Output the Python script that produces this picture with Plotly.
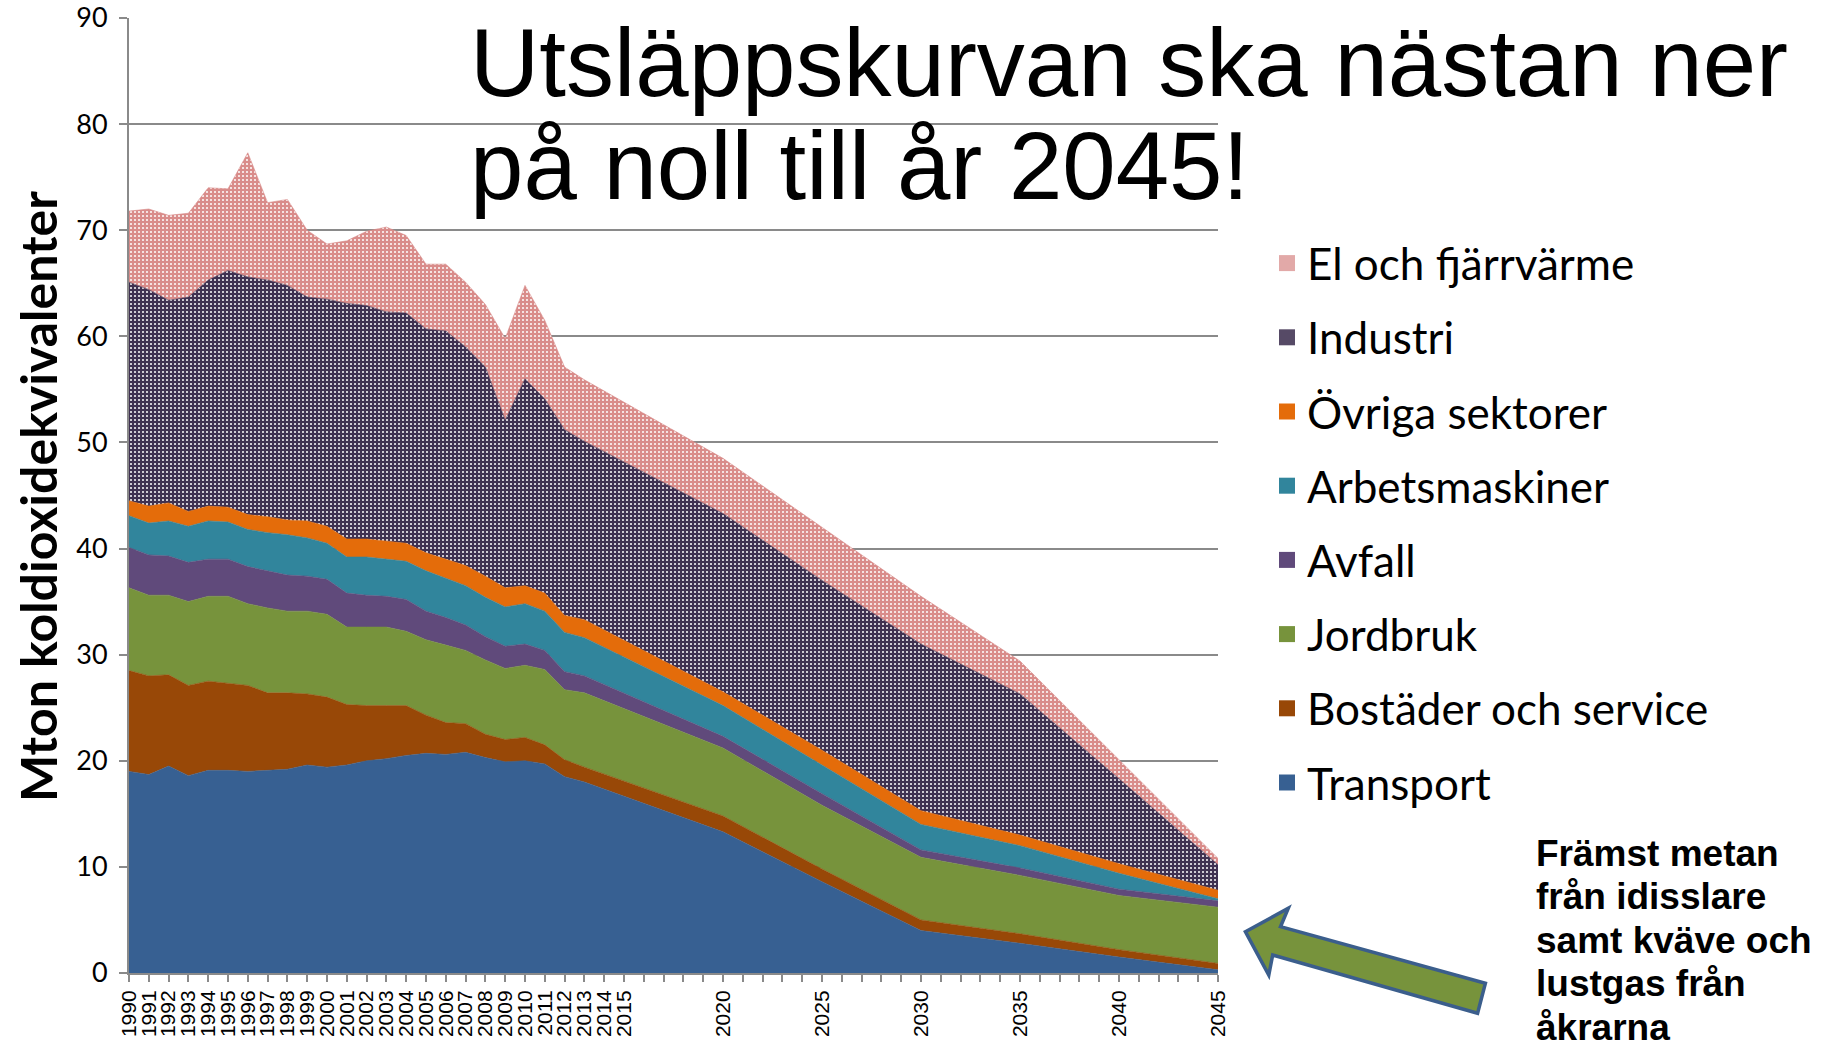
import plotly.graph_objects as go

# ---------------- data ----------------
years = list(range(1990, 2014)) + [2020, 2025, 2030, 2035, 2040, 2045]

transport = [19.0, 18.7, 19.5, 18.6, 19.1, 19.1, 19.0, 19.1, 19.2, 19.6, 19.4, 19.6, 20.0, 20.2,
             20.5, 20.7, 20.6, 20.8, 20.3, 19.9, 20.0, 19.7, 18.5, 18.0, 13.3, 8.6, 4.0, 2.8, 1.5, 0.3]
bostader = [9.5, 9.3, 8.6, 8.5, 8.4, 8.2, 8.1, 7.3, 7.2, 6.7, 6.6, 5.7, 5.2, 5.0,
            4.7, 3.6, 3.0, 2.7, 2.2, 2.1, 2.2, 1.8, 1.6, 1.4, 1.5, 1.2, 1.0, 0.9, 0.7, 0.6]
jordbruk = [7.8, 7.6, 7.5, 7.9, 8.0, 8.2, 7.7, 8.0, 7.7, 7.8, 7.8, 7.3, 7.4, 7.4,
            7.0, 7.1, 7.3, 6.9, 7.0, 6.7, 6.8, 7.1, 6.6, 7.0, 6.4, 6.0, 5.9, 5.5, 5.1, 5.3]
avfall = [3.8, 3.8, 3.7, 3.7, 3.5, 3.5, 3.5, 3.5, 3.4, 3.3, 3.3, 3.2, 3.0, 2.9,
          3.0, 2.7, 2.6, 2.4, 2.2, 2.1, 2.0, 1.8, 1.7, 1.6, 1.1, 1.1, 0.7, 0.7, 0.6, 0.6]
arbetsmaskiner = [3.0, 3.0, 3.3, 3.4, 3.6, 3.5, 3.5, 3.6, 3.8, 3.6, 3.4, 3.4, 3.6, 3.5,
                  3.6, 3.8, 3.7, 3.7, 3.7, 3.7, 3.8, 3.7, 3.7, 3.6, 2.9, 2.7, 2.4, 2.1, 1.5, 0.2]
ovriga = [1.4, 1.6, 1.7, 1.4, 1.4, 1.4, 1.4, 1.5, 1.4, 1.6, 1.6, 1.7, 1.7, 1.7,
          1.7, 1.7, 1.8, 1.9, 2.0, 1.8, 1.7, 1.7, 1.6, 1.7, 1.3, 1.4, 1.3, 1.0, 0.9, 0.8]
industri = [20.6, 20.4, 19.1, 20.2, 21.3, 22.3, 22.4, 22.3, 22.1, 21.1, 21.4, 22.2, 22.0, 21.6,
            21.7, 21.1, 21.5, 20.6, 19.7, 15.8, 19.5, 18.3, 17.5, 16.8, 16.8, 16.0, 15.7, 13.3, 8.0, 2.4]
el_fjarrvarme = [6.7, 7.6, 8.0, 7.9, 8.7, 7.7, 11.7, 7.3, 8.1, 6.3, 5.2, 5.9, 7.0, 8.0,
                 7.3, 6.1, 6.3, 6.1, 5.9, 7.7, 8.8, 7.4, 5.9, 5.8, 5.2, 5.0, 4.5, 3.1, 1.8, 0.6]

tick_years = list(range(1990, 2046))
labeled_years = list(range(1990, 2016)) + [2020, 2025, 2030, 2035, 2040, 2045]
tick_text = [str(y) if y in labeled_years else "" for y in tick_years]

title_lines = ["Utsläppskurvan ska nästan ner", "på noll till år 2045!"]
note_lines = ["Främst metan", "från idisslare", "samt kväve och", "lustgas från", "åkrarna"]
y_title = "Mton koldioxidekvivalenter"

# ---------------- layout geometry ----------------
W, H = 1832, 1049
ML, MR, MT, MB = 129, 614, 18, 76
PW, PH = W - ML - MR, H - MT - MB


def px(x):
    return (x - ML) / PW


def py(y):
    return (H - MB - y) / PH


series = [
    ("Transport", transport, "#376092", None),
    ("Bostäder och service", bostader, "#984807", None),
    ("Jordbruk", jordbruk, "#77933C", None),
    ("Avfall", avfall, "#604A7B", None),
    ("Arbetsmaskiner", arbetsmaskiner, "#31859C", None),
    ("Övriga sektorer", ovriga, "#E46C0A", None),
    ("Industri", industri, "#3F3151", dict(shape=".", fgcolor="white", size=4, solidity=0.2)),
    ("El och fjärrvärme", el_fjarrvarme, "#D98C8A", dict(shape=".", fgcolor="white", size=4, solidity=0.2)),
]
legend_colors = {"Industri": "#564A66", "El och fjärrvärme": "#E2A9A8"}

fig = go.Figure()
for name, vals, color, pattern in series:
    kw = {}
    if pattern:
        kw["fillpattern"] = dict(bgcolor=color, fillmode="replace", **pattern)
    fig.add_trace(go.Scatter(
        x=years, y=vals, name=name, stackgroup="one", mode="lines",
        line=dict(width=0.6, color=color), fillcolor=color, showlegend=False,
        hoverinfo="x+y+name", **kw))

# legend entries (top to bottom as in the reference)
for i, (name, vals, color, pattern) in enumerate(reversed(series)):
    fig.add_trace(go.Scatter(
        x=[None], y=[None], mode="markers", name=name, legendgroup=f"g{i}",
        marker=dict(symbol="square", size=16, color=legend_colors.get(name, color)),
        showlegend=True))

gray = "#8A8A8A"
fig.update_layout(
    width=W, height=H,
    margin=dict(l=ML, r=MR, t=MT, b=MB, pad=0, autoexpand=False),
    plot_bgcolor="white", paper_bgcolor="white",
    showlegend=True,
    legend=dict(x=px(1267), xanchor="left", y=py(228), yanchor="top",
                font=dict(family="Lato", size=44, color="black"),
                traceorder="grouped", tracegroupgap=14, bgcolor="rgba(0,0,0,0)",
                itemclick=False),
    xaxis=dict(range=[1990, 2045], tickmode="array", tickvals=tick_years, ticktext=tick_text,
               tickangle=-90, ticks="outside", ticklen=7, tickcolor=gray, tickwidth=1.5,
               showline=True, linecolor=gray, linewidth=2, showgrid=False, zeroline=False,
               automargin=False,
               tickfont=dict(family="Liberation Sans", size=21, color="black")),
    yaxis=dict(range=[0, 90], dtick=10, ticks="outside", ticklen=8, tickcolor=gray, tickwidth=1.5,
               showline=True, linecolor=gray, linewidth=2, showgrid=True, gridcolor=gray,
               gridwidth=1.5, zeroline=False, automargin=False, ticklabelstandoff=6,
               tickfont=dict(family="Lato", size=27, color="black")),
)

annotations = []
annotations.append(dict(text=f"<b>{y_title}</b>", xref="paper", yref="paper", x=px(38), y=py(497),
                        xanchor="center", yanchor="middle", textangle=-90, showarrow=False,
                        font=dict(family="Lato", size=50, color="black")))
for i, line in enumerate(title_lines):
    annotations.append(dict(text=line, xref="paper", yref="paper", x=px(468), y=py(62 + i * 103),
                            xanchor="left", yanchor="middle", showarrow=False,
                            font=dict(family="Liberation Sans", size=96, color="black")))
for i, line in enumerate(note_lines):
    annotations.append(dict(text=f"<b>{line}</b>", xref="paper", yref="paper", x=px(1534),
                            y=py(853 + i * 43.6), xanchor="left", yanchor="middle", showarrow=False,
                            font=dict(family="Liberation Sans", size=37, color="black")))
fig.update_layout(annotations=annotations)

# block arrow pointing to the agriculture band
arrow_pts = [(1245.4, 931.7), (1288.3, 908.3), (1280.5, 926.7), (1485.4, 983.3),
             (1477.6, 1013.3), (1272.7, 955.0), (1268.8, 975.0)]
path = "M " + " L ".join(f"{px(a):.5f},{py(b):.5f}" for a, b in arrow_pts) + " Z"
fig.add_shape(type="path", path=path, xref="paper", yref="paper",
              fillcolor="#77933C", line=dict(color="#3B5E8C", width=3.5), layer="above")

fig.write_html("out.html", config={"displayModeBar": False},
               post_script="document.body.style.margin='0';")
